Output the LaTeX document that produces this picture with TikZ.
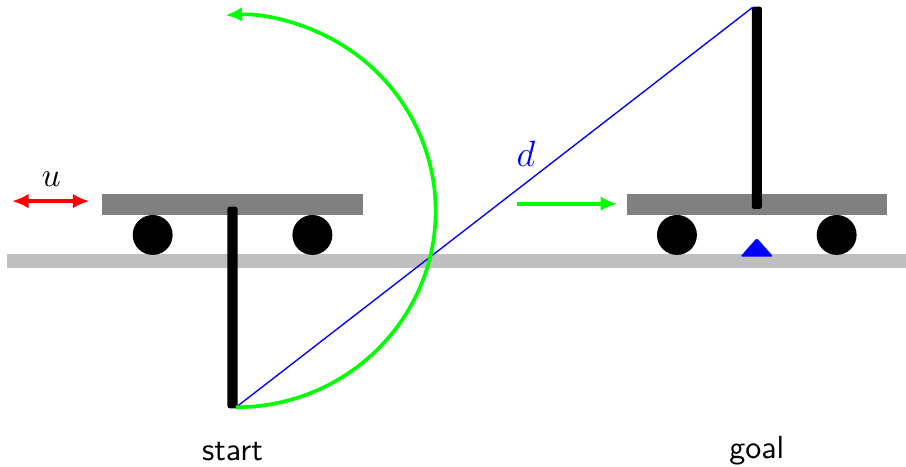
\documentclass[tikz,border=0pt]{standalone}
\usepackage{amsmath,amssymb}
\usepackage{xcolor}
\usetikzlibrary{arrows.meta,calc}
\definecolor{figground}{RGB}{191,191,191}
\definecolor{figcart}{RGB}{128,128,128}
\definecolor{figmove}{RGB}{0,255,0}
\definecolor{figforce}{RGB}{255,0,0}
\definecolor{figmark}{RGB}{0,0,255}
\tikzset{
  cartbody/.style ={fill=figcart},
  wheel/.style    ={fill=black},
  pole/.style     ={fill=black, rounded corners=0.7pt},
  mv/.style       ={draw=figmove, line width=1.2pt, -{Latex[length=5.4pt,width=4.8pt]}},
  frc/.style      ={draw=figforce, line width=1.2pt, {Latex[length=5.4pt,width=4.8pt]}-{Latex[length=5.4pt,width=4.8pt]}},
  lab/.style      ={font=\fontsize{10.5}{12}\sffamily, inner sep=0pt},
}

\begin{document}
\begin{tikzpicture}[scale=1]
  \useasboundingbox (-2.679,-2.373) rectangle (7.759,3.007);
  \fill[figground] (-2.598,-0.081) rectangle (7.759,0.081);
  % start
  \begin{scope}[xshift=0cm]
  \fill[cartbody] (-1.5,0.53) rectangle (1.5,0.777);
  \fill[wheel] (-0.92,0.3) circle (0.23);
  \fill[wheel] (0.92,0.3) circle (0.23);
  \fill[pole] (-0.058,-1.697) rectangle (0.058,0.625);
  \coordinate (tipstart) at (0.04,-1.685);
  \end{scope}
  % goal
  \begin{scope}[xshift=6.04cm]
  \fill[cartbody] (-1.5,0.53) rectangle (1.5,0.777);
  \fill[wheel] (-0.92,0.3) circle (0.23);
  \fill[wheel] (0.92,0.3) circle (0.23);
  \fill[pole] (-0.058,0.6) rectangle (0.058,2.93);
  \coordinate (tipgoal) at (-0.05,2.92);
  \fill[figmark,rounded corners=0.7pt] (-0.19,0.05) -- (0,0.265) -- (0.19,0.05) -- cycle;
  \end{scope}
  \draw[figmark,line width=0.45pt] (tipstart) -- (tipgoal);
  \node[text=figmark,inner sep=0pt,font=\large] (dist) at (3.38,1.238) {$d$};
  \draw[mv] (tipstart) arc[start angle=-90,end angle=93,x radius=2.3,y radius=2.26];
  \coordinate (pusha) at (3.28,0.66);
  \coordinate (pushb) at (4.43,0.66);
  \draw[mv] (pusha) -- (pushb);
  \coordinate (forcea) at (-2.54,0.69);
  \coordinate (forceb) at (-1.65,0.69);
  \draw[frc] (forcea) -- (forceb);
  \node[inner sep=0pt,font=\fontsize{10.5}{12}\selectfont] (force) at (-2.09,0.94) {$u$};
  \node[lab] (start) at (0,-2.19) {start};
  \node[lab] (goal) at (6.04,-2.19) {goal};
\end{tikzpicture}
\end{document}
